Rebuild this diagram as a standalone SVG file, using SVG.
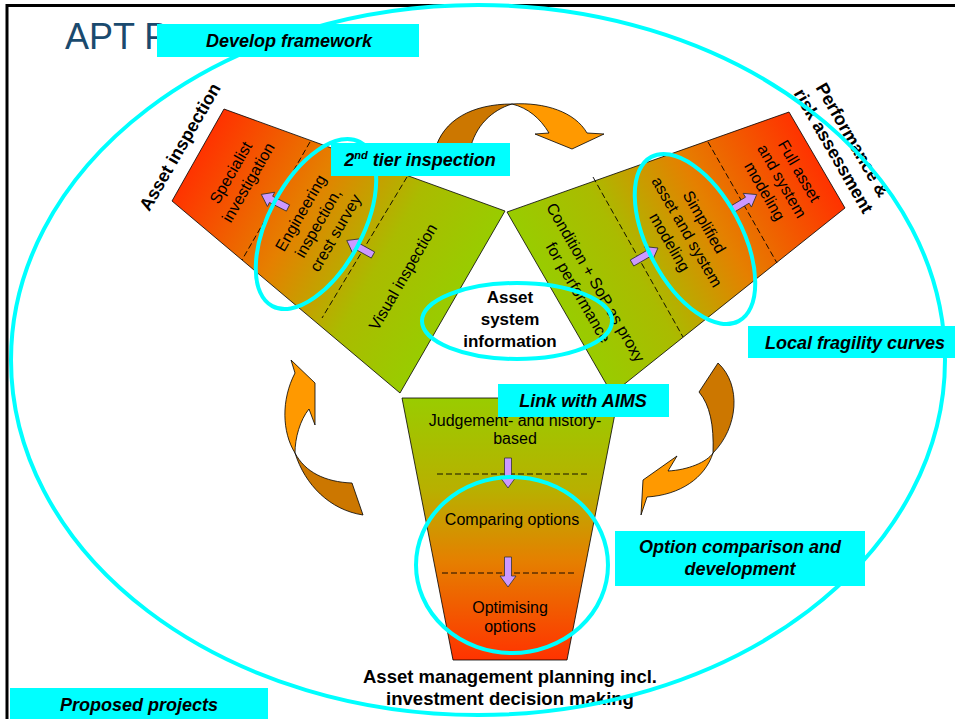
<svg xmlns="http://www.w3.org/2000/svg" width="955" height="719" viewBox="0 0 955 719">
<style>
  text{font-family:"Liberation Sans",Arial,sans-serif;fill:#000}
  .lbl{font-size:16px}
  .hd{font-size:18px;font-weight:bold}
  .tag{font-size:18px;font-weight:bold;font-style:italic}
  .box{fill:#00FFFF}
  .ring{fill:none;stroke:#00FFFF;stroke-width:4}
  .trap{stroke:#000;stroke-width:0.8}
  .dash{fill:none;stroke:#000;stroke-width:0.9;stroke-dasharray:6 3}
  .front{fill:#FF9900;stroke:#000;stroke-width:0.8}
  .back{fill:#CC7700;stroke:#000;stroke-width:0.8}
  .step{fill:#CC99FF;stroke:#333;stroke-width:0.8}
</style>
<defs>
  <linearGradient id="gLeft" gradientUnits="userSpaceOnUse" x1="198" y1="155" x2="452" y2="302">
    <stop offset="0" stop-color="#FF3300"/>
    <stop offset="0.4" stop-color="#E58000"/>
    <stop offset="0.72" stop-color="#AABB00"/>
    <stop offset="1" stop-color="#99CC00"/>
  </linearGradient>
  <linearGradient id="gRight" gradientUnits="userSpaceOnUse" x1="560" y1="303" x2="816" y2="159">
    <stop offset="0" stop-color="#99CC00"/>
    <stop offset="0.28" stop-color="#AABB00"/>
    <stop offset="0.6" stop-color="#E58000"/>
    <stop offset="1" stop-color="#FF3300"/>
  </linearGradient>
  <linearGradient id="gBottom" gradientUnits="userSpaceOnUse" x1="0" y1="398" x2="0" y2="660">
    <stop offset="0" stop-color="#99CC00"/>
    <stop offset="0.35" stop-color="#B8B000"/>
    <stop offset="0.62" stop-color="#E58000"/>
    <stop offset="1" stop-color="#FF3300"/>
  </linearGradient>
  <!-- small step arrow, tail at origin, pointing along +x -->
  <path id="step" class="step" d="M0,-3.5 L19,-3.5 L19,-8 L30,0 L19,8 L19,3.5 L0,3.5 Z"/>
</defs>

<!-- slide frame and title -->
<g id="frame">
  <path d="M7,719 V5.5 H955" fill="none" stroke="#000" stroke-width="3"/>
  <text x="65" y="49" style="font-size:36px;fill:#1A4A6E">APT Programme</text>
</g>

<!-- circular process arrows -->
<g id="connectors">
  <path class="back" d="M435,150 C443,120 472,104 512,104 C492,110 475,126 470,150 Z"/>
  <path class="front" d="M512,104 C545,102 575,112 587,133 L604,134 L572,149 L535,134 L549,133 C540,118 528,108 512,104 Z"/>
  <path class="back" d="M718,363 C742,385 738,428 713,453 C714,425 710,405 699,392 Z"/>
  <path class="front" d="M713,453 C705,478 680,495 647,497 L641,515 L643,480 L677,456 L668,471 C688,470 707,462 713,453 Z"/>
  <path class="back" d="M295,453 C305,485 330,510 363,515 L352,483 C325,482 305,472 295,453 Z"/>
  <path class="front" d="M291,360 L315,383 L315,425 L309,409 C300,420 295,438 295,453 C282,432 281,400 295,373 Z"/>
</g>

<!-- asset inspection stage -->
<g id="inspection">
  <path class="trap" fill="url(#gLeft)" d="M224,109 L505,211 L400,393 L172,201 Z"/>
  <line class="dash" x1="310" y1="142" x2="242" y2="260"/>
  <line class="dash" x1="407" y1="177" x2="322" y2="318"/>
  <g class="lbl" text-anchor="middle">
    <text transform="translate(239.5,177.5) rotate(-60)"><tspan x="0" y="-4.5">Specialist</tspan><tspan x="0" y="15.5">investigation</tspan></text>
    <text transform="translate(318,223) rotate(-60)"><tspan x="0" y="-14.5">Engineering</tspan><tspan x="0" y="5.5">inspection,</tspan><tspan x="0" y="25.5">crest survey</tspan></text>
    <text transform="translate(403,277) rotate(-60)" y="5.5">Visual inspection</text>
  </g>
  <use href="#step" transform="translate(288,208) rotate(207)"/>
  <use href="#step" transform="translate(373,255) rotate(209)"/>
  <text class="hd" text-anchor="middle" transform="translate(180,147) rotate(-60)" y="6">Asset inspection</text>
</g>

<!-- performance and risk assessment stage -->
<g id="performance">
  <path class="trap" fill="url(#gRight)" d="M507,212 L789,112 L845,208 L612,394 Z"/>
  <line class="dash" x1="593" y1="177" x2="683" y2="337"/>
  <line class="dash" x1="708" y1="142" x2="777" y2="263"/>
  <g class="lbl" text-anchor="middle">
    <text transform="translate(587,287.5) rotate(60)"><tspan x="0" y="-4.5">Condition + SoP as proxy</tspan><tspan x="0" y="15.5">for performance</tspan></text>
    <text transform="translate(687,232) rotate(60)"><tspan x="0" y="-14.5">Simplified</tspan><tspan x="0" y="5.5">asset and system</tspan><tspan x="0" y="25.5">modeling</tspan></text>
    <text transform="translate(782,181) rotate(60)"><tspan x="0" y="-14.5">Full asset</tspan><tspan x="0" y="5.5">and system</tspan><tspan x="0" y="25.5">modeling</tspan></text>
  </g>
  <use href="#step" transform="translate(632,263) rotate(-30)"/>
  <use href="#step" transform="translate(731,210) rotate(-31)"/>
  <text class="hd" text-anchor="middle" transform="translate(843,145.5) rotate(60)"><tspan x="0" y="-5">Performance &amp;</tspan><tspan x="0" y="17">risk assessment</tspan></text>
</g>

<!-- asset management planning stage -->
<g id="planning">
  <path class="trap" fill="url(#gBottom)" d="M402,398 L618,398 L567,660 L453,660 Z"/>
  <line class="dash" x1="437" y1="474" x2="587" y2="474"/>
  <line class="dash" x1="442" y1="573" x2="577" y2="573"/>
  <g class="lbl" text-anchor="middle">
    <text x="515" y="426">Judgement- and history-</text>
    <text x="515" y="444">based</text>
    <text x="512" y="525">Comparing options</text>
    <text x="510" y="613">Optimising</text>
    <text x="510" y="632">options</text>
  </g>
  <use href="#step" transform="translate(508,458) rotate(90)"/>
  <use href="#step" transform="translate(508,557) rotate(90)"/>
  <text class="hd" text-anchor="middle" x="510" y="683" style="font-size:18.5px">Asset management planning incl.</text>
  <text class="hd" text-anchor="middle" x="510" y="705" style="font-size:18.5px">investment decision making</text>
</g>

<!-- central information hub -->
<g id="hub">
  <text class="hd" style="font-size:17px" text-anchor="middle" x="510" y="303">Asset</text>
  <text class="hd" style="font-size:17px" text-anchor="middle" x="510" y="325">system</text>
  <text class="hd" style="font-size:17px" text-anchor="middle" x="510" y="347">information</text>
</g>

<!-- highlight rings -->
<g id="rings">
  <ellipse class="ring" cx="478" cy="360" rx="467" ry="355"/>
  <ellipse class="ring" cx="316" cy="224" rx="93" ry="47" transform="rotate(-62 316 224)"/>
  <ellipse class="ring" cx="695" cy="239" rx="93" ry="47" transform="rotate(62 695 239)"/>
  <ellipse class="ring" cx="517" cy="321" rx="95" ry="38"/>
  <ellipse class="ring" cx="512" cy="565" rx="96" ry="88"/>
</g>

<!-- project tags -->
<g id="tag-framework">
  <rect class="box" x="157" y="24" width="262" height="33"/>
  <text class="tag" text-anchor="middle" x="289" y="47">Develop framework</text>
</g>
<g id="tag-tier">
  <rect class="box" x="331" y="143" width="179" height="33"/>
  <text class="tag" text-anchor="middle" x="420" y="166">2<tspan dy="-7" style="font-size:11px">nd</tspan><tspan dy="7"> tier inspection</tspan></text>
</g>
<g id="tag-fragility">
  <rect class="box" x="748" y="326" width="207" height="32"/>
  <text class="tag" text-anchor="middle" x="855" y="349">Local fragility curves</text>
</g>
<g id="tag-aims">
  <rect class="box" x="498" y="384" width="171" height="33"/>
  <text class="tag" text-anchor="middle" x="583" y="407">Link with AIMS</text>
</g>
<g id="tag-options">
  <rect class="box" x="615" y="531" width="250" height="55"/>
  <text class="tag" text-anchor="middle" x="740" y="553">Option comparison and</text>
  <text class="tag" text-anchor="middle" x="740" y="575">development</text>
</g>
<g id="tag-proposed">
  <rect class="box" x="10" y="688" width="258" height="31"/>
  <text class="tag" text-anchor="middle" x="139" y="711">Proposed projects</text>
</g>
</svg>
